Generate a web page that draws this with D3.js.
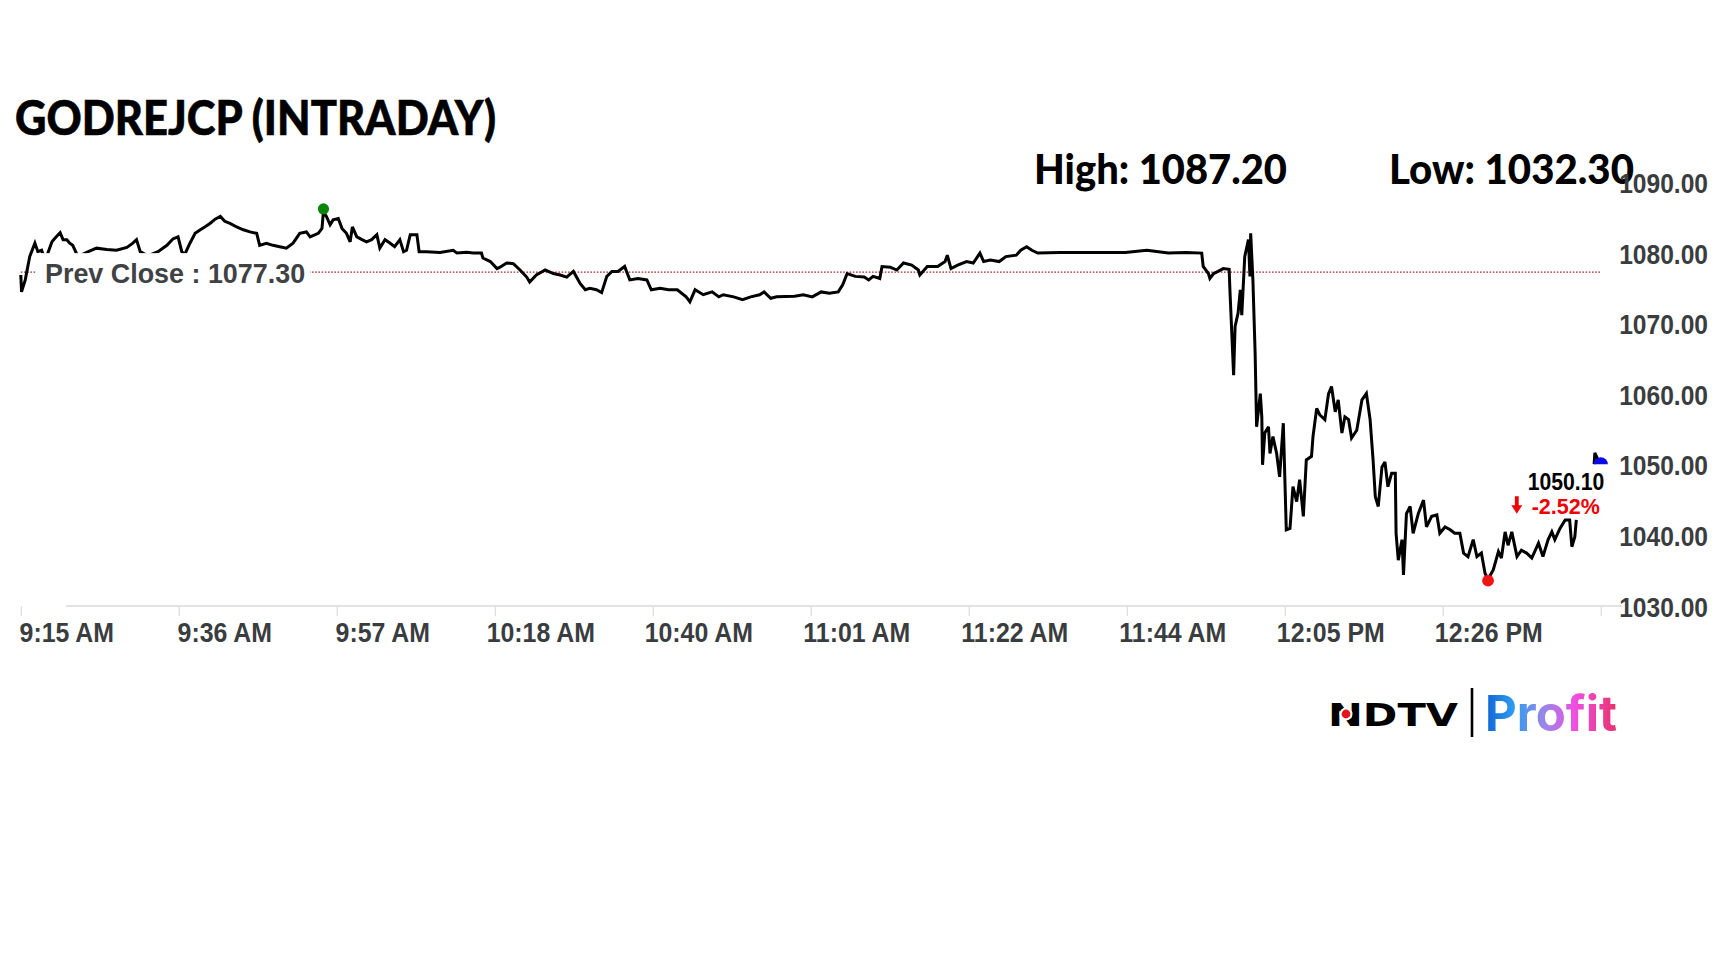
<!DOCTYPE html>
<html><head><meta charset="utf-8">
<script src="https://cdn.jsdelivr.net/npm/d3@7"></script>
<style>
html,body{margin:0;padding:0;background:#fff;}
svg{display:block;}
</style></head>
<body>
<svg id="chart" width="1728" height="972"></svg>
<script>
// ---------------- DATA ----------------
const symbolTitle = "GODREJCP (INTRADAY)";
const dayHigh = 1087.20;
const dayLow = 1032.30;
const prevClose = 1077.30;
const lastPrice = 1050.10;
const changePct = -2.52;
const lastMinute = 213.0;          // minutes after 9:15 of the last quote
const yTicks = [1030, 1040, 1050, 1060, 1070, 1080, 1090];
const xTickLabels = ["9:15 AM","9:36 AM","9:57 AM","10:18 AM","10:40 AM","11:01 AM","11:22 AM","11:44 AM","12:05 PM","12:26 PM",""];
const xTickMinutes = [0, 21.3, 42.6, 63.9, 85.2, 106.5, 127.8, 149.1, 170.4, 191.7, 213];
// minutes after 9:15 for each quote
const minutes = [
0,0.1,0.6,1.2,1.9,2.3,2.8,3.3,4.2,4.6,
5.3,5.7,6.2,6.6,7.0,7.7,9.1,10.2,11.6,12.9,
14.3,15.1,15.6,16.1,17.1,18.5,19.7,20.5,21.2,21.7,
22.1,22.8,23.5,24.2,24.8,25.5,26.2,26.9,27.5,28.2,
29.1,30.0,30.9,31.8,32.2,33.1,34.0,34.9,35.8,36.7,
37.6,38.5,39.0,40.1,40.6,40.8,41.2,41.7,42.1,42.8,
43.3,43.9,44.4,44.7,45.3,46.0,46.6,47.3,48.0,48.4,
49.1,49.8,50.4,51.1,51.6,52.0,52.5,53.4,53.7,54.7,
56.5,58.3,58.8,60.1,61.0,62.1,62.3,63.3,64.2,64.6,
65.5,66.4,67.3,68.2,68.6,69.5,70.7,71.8,72.7,73.6,
74.5,75.4,76.1,76.7,77.6,78.3,79.0,79.7,80.5,81.4,
82.1,83.2,84.4,85.0,86.2,87.3,88.5,89.7,90.2,90.9,
92.0,93.2,94.1,94.7,96.1,97.3,98.4,99.6,100.2,101.1,
101.9,104.3,105.5,106.7,107.9,109.0,110.2,110.8,111.4,112.5,
113.7,114.3,114.9,115.8,116.1,117.2,118.1,119.0,120.1,121.0,
121.2,122.2,123.6,124.6,124.9,125.4,126.3,127.5,128.4,129.3,
129.8,130.7,131.9,132.8,134.2,134.8,135.6,136.3,137.1,140.1,
143.0,146.0,148.9,151.8,154.7,157.1,159.2,159.4,160.1,160.3,
160.8,161.4,162.1,162.9,163.0,163.5,163.7,164.1,164.4,164.6,
165.0,165.5,165.7,165.8,166.1,166.4,166.6,167.1,167.3,167.4,
167.7,168.2,168.4,168.8,169.3,169.7,170.2,170.6,171.1,171.5,
172.0,172.4,172.9,173.3,174.0,174.2,174.7,175.1,175.8,176.3,
176.7,177.2,177.6,178.1,178.5,179.0,179.4,180.1,180.8,181.4,
181.9,182.3,182.6,183.0,183.5,183.9,184.3,184.8,185.3,185.4,
185.7,186.2,186.4,186.8,187.3,187.7,188.4,189.1,189.5,190.2,
190.9,191.3,192.0,192.7,193.3,194.0,194.5,195.1,195.8,196.3,
196.9,197.4,197.8,198.5,199.2,199.6,200.1,200.5,201.0,201.7,
202.3,203.0,203.7,204.6,205.2,205.9,206.4,206.8,207.5,208.2,
208.8,209.1,209.5,209.7
];
const prices = [
1076.9,1074.5,1076.2,1079.5,1081.4,1080.2,1080.4,1079.0,1081.6,1082.1,
1082.9,1081.9,1081.9,1081.4,1081.1,1079.5,1080.2,1080.7,1080.5,1080.4,
1080.8,1081.4,1081.9,1080.2,1079.6,1080.2,1081.1,1082.0,1082.3,1080.2,
1079.8,1081.4,1082.8,1083.3,1083.7,1084.2,1084.8,1085.2,1084.5,1084.2,
1083.7,1083.3,1083.0,1082.8,1081.1,1081.4,1081.1,1080.9,1080.7,1081.4,
1082.8,1083.0,1082.3,1082.8,1083.5,1085.9,1085.2,1084.0,1084.7,1084.9,
1083.5,1082.8,1081.6,1083.7,1082.3,1081.9,1081.6,1081.9,1082.6,1080.7,
1081.9,1081.4,1080.9,1081.9,1080.2,1080.4,1082.6,1082.6,1080.2,1080.2,
1080.1,1080.4,1080.0,1080.1,1080.0,1080.0,1079.3,1078.8,1077.8,1078.0,
1078.6,1078.5,1077.6,1076.6,1075.9,1076.9,1077.6,1077.1,1076.9,1076.6,
1077.4,1075.7,1074.8,1075.0,1074.8,1074.4,1076.7,1077.4,1077.4,1078.1,
1076.2,1076.4,1076.2,1074.8,1075.0,1074.8,1074.8,1073.8,1073.1,1074.8,
1074.1,1074.5,1073.8,1074.1,1073.8,1073.4,1073.8,1074.1,1074.5,1073.6,
1073.8,1073.9,1074.1,1073.8,1074.5,1074.3,1074.5,1075.5,1077.1,1076.7,
1076.6,1076.2,1076.7,1076.4,1078.1,1078.0,1077.6,1078.6,1078.3,1077.6,
1076.9,1078.1,1078.1,1078.8,1079.7,1077.8,1078.3,1078.8,1078.6,1080.0,
1078.8,1079.0,1078.8,1079.5,1079.7,1080.4,1080.9,1080.4,1080.0,1080.1,
1080.1,1080.1,1080.1,1080.4,1080.0,1080.1,1080.0,1078.1,1077.1,1076.4,
1077.1,1077.4,1077.8,1077.7,1074.8,1062.7,1069.6,1071.5,1074.8,1071.2,
1079.5,1081.9,1076.7,1082.8,1076.2,1065.8,1055.4,1060.1,1056.8,1050.0,
1054.5,1055.4,1051.6,1054.0,1051.6,1048.3,1055.9,1040.8,1041.0,1046.9,
1044.8,1047.9,1042.7,1050.7,1051.2,1054.0,1058.0,1057.1,1056.4,1060.1,
1061.1,1057.5,1059.2,1054.5,1056.8,1056.4,1053.8,1054.9,1059.2,1060.1,
1056.4,1050.7,1045.5,1044.1,1049.7,1050.4,1046.9,1048.8,1048.8,1040.3,
1036.5,1039.4,1034.4,1043.1,1044.1,1040.3,1043.1,1045.0,1041.2,1042.7,
1042.9,1040.3,1041.2,1040.8,1040.3,1040.3,1037.5,1037.0,1039.4,1037.0,
1037.5,1034.6,1033.8,1035.1,1037.7,1036.8,1040.5,1038.6,1040.5,1037.0,
1037.9,1037.5,1036.8,1038.9,1037.0,1039.4,1040.5,1039.4,1041.0,1042.2,
1042.2,1038.4,1039.8,1042.2
];
// small separate trace right before the last quote
const tailMinutes = [212.1, 212.2, 212.5, 212.7];
const tailPrices = [1050.1, 1051.7, 1051.0, 1050.5];

// ---------------- CHART ----------------
const svg = d3.select("#chart");
const x = d3.scaleLinear().domain([0, 213]).range([20.8, 1600.8]);
const y = d3.scaleLinear().domain([1030, 1090]).range([606, 182.5]);

const series = minutes.map((m, i) => ({m, v: prices[i]}));
const tail = tailMinutes.map((m, i) => ({m, v: tailPrices[i]}));

// Title
svg.append("text")
  .attr("x", 15).attr("y", 134.5)
  .attr("font-family", "Lato, 'Open Sans', sans-serif")
  .attr("font-weight", 900).attr("font-size", 47.5)
  .attr("fill", "#000").attr("stroke", "#000").attr("stroke-width", 0.6)
  .attr("textLength", 481).attr("lengthAdjust", "spacingAndGlyphs")
  .text(symbolTitle);

// High / Low
const f2 = d3.format(".2f");
svg.append("text")
  .attr("x", 1034).attr("y", 183.5)
  .attr("font-family", "Lato, sans-serif").attr("font-weight", 900)
  .attr("font-size", 42.5).attr("fill", "#000")
  .attr("textLength", 253).attr("lengthAdjust", "spacingAndGlyphs")
  .text("High: " + dayHigh.toFixed(2));
svg.append("text")
  .attr("x", 1389).attr("y", 183.5)
  .attr("font-family", "Lato, sans-serif").attr("font-weight", 900)
  .attr("font-size", 42.5).attr("fill", "#000")
  .attr("textLength", 245).attr("lengthAdjust", "spacingAndGlyphs")
  .text("Low: " + dayLow.toFixed(2));

// X axis baseline
svg.append("line")
  .attr("x1", 66).attr("x2", 1622)
  .attr("y1", y(1030)).attr("y2", y(1030))
  .attr("stroke", "#d9d9d9").attr("stroke-width", 1.6);

// X axis ticks & labels
const xAxis = d3.axisBottom(x)
  .tickValues(xTickMinutes)
  .tickSize(10)
  .tickFormat((d, i) => xTickLabels[i]);
const gx = svg.append("g")
  .attr("transform", `translate(0,${y(1030)})`)
  .call(xAxis);
gx.select(".domain").remove();
gx.selectAll(".tick line").attr("stroke", "#dcdcdc").attr("stroke-width", 1.2);
gx.selectAll(".tick text")
  .attr("x", 0).attr("y", 0).attr("dy", 0)
  .attr("transform", "translate(45.5,36) scale(1,1.12)")
  .attr("text-anchor", "middle")
  .attr("font-family", "'Liberation Sans', Arial, sans-serif")
  .attr("font-weight", 700).attr("font-size", 24.9)
  .attr("fill", "#3a3d40");

// Y axis labels
const yAxis = d3.axisRight(y).tickValues(yTicks).tickSize(0).tickFormat(f2);
const gy = svg.append("g").attr("transform", "translate(1708,0)").call(yAxis);
gy.select(".domain").remove();
gy.selectAll(".tick text")
  .attr("x", 0).attr("dy", "0.37em")
  .attr("transform", "scale(1,1.1)")
  .attr("text-anchor", "end")
  .attr("font-family", "'Liberation Sans', Arial, sans-serif")
  .attr("font-weight", 700).attr("font-size", 24.6)
  .attr("fill", "#3a3d40");

// Previous close dotted line
svg.append("line")
  .attr("x1", x(0)).attr("x2", x(213))
  .attr("y1", y(prevClose)).attr("y2", y(prevClose))
  .attr("stroke", "#b3262a").attr("stroke-width", 1.3)
  .attr("stroke-dasharray", "1.6,1.6");

// Price line
const line = d3.line().x(d => x(d.m)).y(d => y(d.v)).curve(d3.curveLinear);
svg.append("path").datum(series)
  .attr("d", line).attr("fill", "none")
  .attr("stroke", "#000").attr("stroke-width", 3)
  .attr("stroke-linejoin", "miter").attr("stroke-miterlimit", 3);
svg.append("path").datum(tail)
  .attr("d", line).attr("fill", "none")
  .attr("stroke", "#000").attr("stroke-width", 3);

// Prev close label (with white background that hides the line)
svg.append("rect")
  .attr("x", 36).attr("y", y(prevClose) - 19).attr("width", 274).attr("height", 40)
  .attr("fill", "#fff");
svg.append("text")
  .attr("x", 45).attr("y", y(prevClose) + 10.5)
  .attr("font-family", "'Liberation Sans', Arial, sans-serif")
  .attr("font-weight", 700).attr("font-size", 26.9)
  .attr("fill", "#3f4245")
  .text("Prev Close : " + prevClose.toFixed(2));

// High / low markers
const maxPt = series.reduce((a, b) => b.v > a.v ? b : a);
const minPt = series.reduce((a, b) => b.v < a.v ? b : a);
svg.append("circle").attr("cx", x(maxPt.m)).attr("cy", y(maxPt.v) - 2.5)
  .attr("r", 5.6).attr("fill", "#0a870a");
svg.append("circle").attr("cx", x(minPt.m)).attr("cy", y(minPt.v) + 1.5)
  .attr("r", 5.9).attr("fill", "#f01414");

// Last quote marker (upper half disc)
const lx = x(lastMinute), ly = y(lastPrice);
svg.append("path")
  .attr("transform", `translate(${lx},${ly})`)
  .attr("d", d3.arc()({innerRadius: 0, outerRadius: 7, startAngle: -Math.PI / 2, endAngle: Math.PI / 2}))
  .attr("fill", "#0a0ae6");

// Last price annotation
svg.append("text")
  .attr("transform", `translate(${lx + 3.5},${ly + 26}) scale(1,1.1)`)
  .attr("text-anchor", "end")
  .attr("font-family", "'Liberation Sans', Arial, sans-serif")
  .attr("font-weight", 700).attr("font-size", 21.2)
  .attr("fill", "#000")
  .text(lastPrice.toFixed(2));
svg.append("text")
  .attr("transform", `translate(${lx - 1},${ly + 50}) scale(1,1.05)`)
  .attr("text-anchor", "end")
  .attr("font-family", "'Liberation Sans', Arial, sans-serif")
  .attr("font-weight", 700).attr("font-size", 21.5)
  .attr("fill", "#f00000")
  .text(changePct.toFixed(2) + "%");
// down arrow
const ax = lx - 84, ay = ly + 32;
svg.append("path")
  .attr("d", `M${ax - 1.9},${ay} h3.8 v9 h3.6 l-5.5,8.5 l-5.5,-8.5 h3.6 z`)
  .attr("fill", "#f00000");

// Logo
svg.append("text")
  .attr("x", 1328).attr("y", 726)
  .attr("font-family", "'DejaVu Sans', sans-serif").attr("font-weight", 700)
  .attr("font-size", 32).attr("fill", "#000")
  .attr("textLength", 130).attr("lengthAdjust", "spacingAndGlyphs")
  .text("NDTV");
svg.append("circle").attr("cx", 1346).attr("cy", 714).attr("r", 6.5).attr("fill", "#fff");
svg.append("circle").attr("cx", 1346).attr("cy", 714).attr("r", 4.4).attr("fill", "#e3161b");
svg.append("line").attr("x1", 1472).attr("x2", 1472).attr("y1", 688).attr("y2", 737)
  .attr("stroke", "#000").attr("stroke-width", 2.6);
const defs = svg.append("defs");
const grad = defs.append("linearGradient").attr("id", "profitGrad")
  .attr("x1", "0%").attr("x2", "100%").attr("y1", "0%").attr("y2", "0%");
[[0, "#0f63d6"], [0.22, "#2f9cf0"], [0.45, "#9a86e8"], [0.68, "#ef4fe2"], [1, "#e8336c"]]
  .forEach(([o, c]) => grad.append("stop").attr("offset", o).attr("stop-color", c));
svg.append("text")
  .attr("x", 1485).attr("y", 731)
  .attr("font-family", "Inter, Roboto, sans-serif").attr("font-weight", 700)
  .attr("font-size", 49).attr("fill", "url(#profitGrad)")
  .attr("textLength", 132).attr("lengthAdjust", "spacingAndGlyphs")
  .text("Profit");
</script>
</body></html>
